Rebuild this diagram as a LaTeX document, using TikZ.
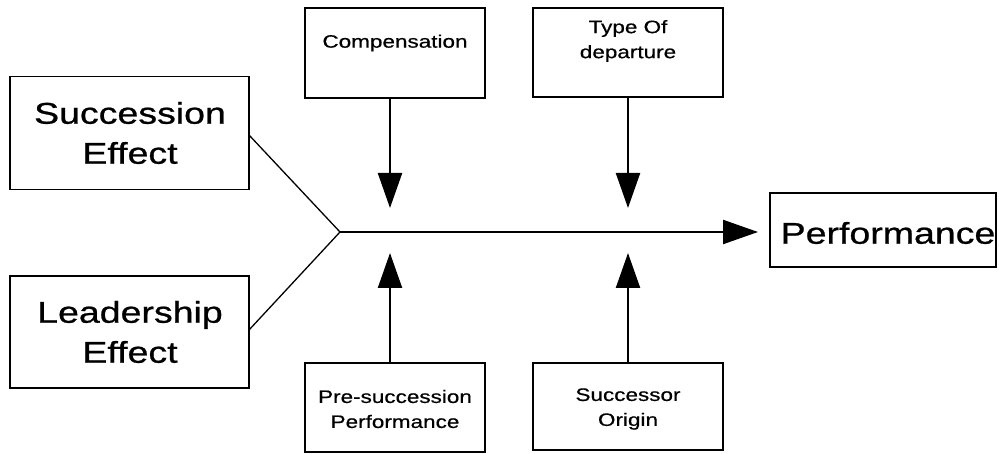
\documentclass[tikz,border=0pt]{standalone}
\usepackage{fontspec}
\newfontfamily\bigfont[FakeStretch=1.25,FakeBold=0.8]{Liberation Sans}
\newfontfamily\smallfont[FakeStretch=1.25,FakeBold=0.6]{Liberation Sans}
\usetikzlibrary{arrows.meta}
\begin{document}
\begin{tikzpicture}[x=1pt,y=-1pt,
  box/.style={draw, line width=1.4pt, inner sep=0pt, outer sep=0pt},
  bigtxt/.style={font=\bigfont\fontsize{30}{40}\selectfont, align=center, inner sep=0pt},
  smalltxt/.style={font=\smallfont\fontsize{18}{25}\selectfont, align=center, inner sep=0pt},
  arr/.style={line width=2.2pt, -{Triangle[length=35pt,width=24pt]}},
  thin/.style={line width=1.3pt}]
\useasboundingbox (0,0) rectangle (999,454);
% left boxes
\node[box, minimum width=239pt, minimum height=113pt] (se) at (129.5,133) {};
\node[bigtxt] (set) at (130,133) {Succession\\Effect};
\node[box, minimum width=239pt, minimum height=112pt] (le) at (129.5,332) {};
\node[bigtxt] (let) at (130,332) {Leadership\\Effect};
% performance
\node[box, minimum width=226pt, minimum height=74pt] (perf) at (883,230) {};
\node[bigtxt] (perft) at (888,233) {Performance};
% top boxes
\node[box, minimum width=180pt, minimum height=90pt] (comp) at (395,53) {};
\node[smalltxt] (compt) at (395,43) {Compensation};
\node[box, minimum width=190pt, minimum height=89pt] (type) at (628,52.5) {};
\node[smalltxt] (typet) at (628,41) {Type Of\\departure};
% bottom boxes
\node[box, minimum width=180pt, minimum height=89pt] (pre) at (395,407.5) {};
\node[smalltxt] (pret) at (395,409) {Pre-succession\\Performance};
\node[box, minimum width=190pt, minimum height=87pt] (succ) at (628,406.5) {};
\node[smalltxt] (succt) at (628,409) {Successor\\Origin};
% junction and line
\coordinate (j) at (340,232);
\coordinate (seA) at (249,135);
\coordinate (leA) at (249,330);
\draw[thin] (seA) -- (j) -- (leA);
\coordinate (mainEnd) at (758,232);
\draw[arr] (j) -- (mainEnd);
% vertical arrows
\coordinate (c1) at (390,98);
\coordinate (c1e) at (390,208);
\draw[arr] (c1) -- (c1e);
\coordinate (c2) at (628,97);
\coordinate (c2e) at (628,208);
\draw[arr] (c2) -- (c2e);
\coordinate (p1) at (390,363);
\coordinate (p1e) at (390,253);
\draw[arr] (p1) -- (p1e);
\coordinate (p2) at (628,363);
\coordinate (p2e) at (628,253);
\draw[arr] (p2) -- (p2e);
\end{tikzpicture}
\end{document}
